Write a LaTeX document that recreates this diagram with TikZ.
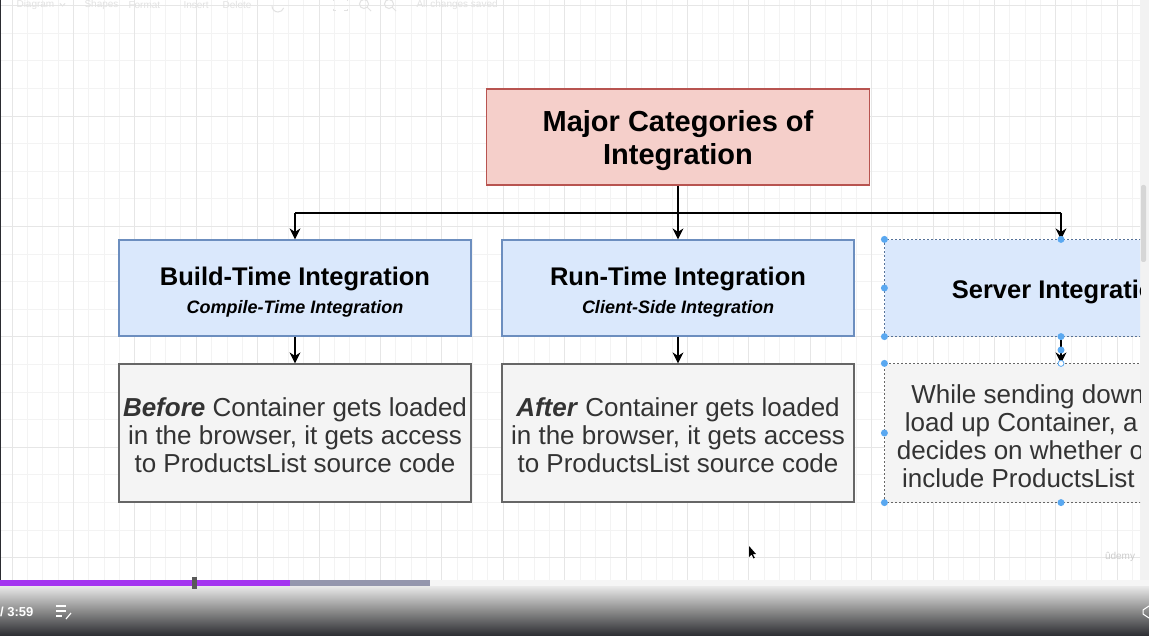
\documentclass[tikz,border=0pt]{standalone}
\usepackage{fontspec}
\setmainfont{Liberation Sans}
\usetikzlibrary{arrows.meta,calc}
\definecolor{pinkfill}{HTML}{F5CFCA}
\definecolor{pinkline}{HTML}{B85450}
\definecolor{bluefill}{HTML}{DAE8FC}
\definecolor{blueline}{HTML}{6C8EBF}
\definecolor{greyfill}{HTML}{F4F4F4}
\definecolor{greyline}{HTML}{666666}
\definecolor{bodytext}{HTML}{333333}
\definecolor{handle}{HTML}{5AA8F0}
\definecolor{gridminor}{HTML}{F3F3F3}
\definecolor{gridmajor}{HTML}{E6E6E6}
\definecolor{tbtext}{HTML}{E2E2E2}
\definecolor{purplebar}{HTML}{A435F0}
\definecolor{greybar}{HTML}{9496AD}
\definecolor{uidark}{HTML}{2B2C31}
\tikzset{
  box/.style={rectangle, minimum width=352pt, inner sep=0pt, align=center, line width=1.2pt},
  titlebox/.style={box, fill=pinkfill, draw=pinkline, minimum width=383pt, minimum height=96pt},
  catbox/.style={box, fill=bluefill, draw=blueline, minimum height=96pt, font=\fontsize{18}{28}\selectfont},
  descbox/.style={box, fill=greyfill, draw=greyline, minimum height=138pt, text=bodytext},
  selbox/.style={dash pattern=on 2pt off 2pt, draw=blueline!80!black},
  conn/.style={draw=black, line width=1.3pt},
  arr/.style={conn, -{Stealth[length=11pt,width=11pt,inset=3.5pt]}},
  hdl/.style={circle, fill=handle, inner sep=0pt, minimum size=7pt},
  catfont/.style={font=\fontsize{25.5}{28}\selectfont\bfseries},
  descfont/.style={font=\fontsize{26}{28}\selectfont},
  tb/.style={text=tbtext, font=\fontsize{10}{12}\selectfont, anchor=west},
  tbicon/.style={draw=tbtext, line width=1pt}
}
\newcommand{\pushdown}[1]{\rule{0pt}{#1}}
\newcommand{\cattitle}[1]{{\fontsize{25.5}{28}\selectfont\bfseries\pushdown{26.5pt}#1}}
\newcommand{\catsub}[1]{{\bfseries\itshape #1}}
\begin{document}
\begin{tikzpicture}[x=1pt,y=-1pt]
\useasboundingbox (0,0) rectangle (1149,636);
\fill[white] (0,0) rectangle (1149,636);
% grid
\begin{scope}
\clip (0,0) rectangle (1140,580);
\foreach \i in {-1,...,75} \draw[gridminor, line width=0.8pt] ({12+\i*15.35},0) -- ++(0,580);
\foreach \j in {-5,...,17} \draw[gridminor, line width=0.8pt] (0,{116+\j*27.6}) -- ++(1140,0);
\foreach \i in {0,...,18} \draw[gridmajor, line width=0.9pt] ({12+\i*61.4},0) -- ++(0,580);
\foreach \j in {-1,...,4} \draw[gridmajor, line width=0.9pt] (0,{116+\j*110.4}) -- ++(1140,0);
\end{scope}
\fill[uidark] (0,0) rectangle (1.2,580);
% toolbar (faint)
\node[tb] (tb1) at (13,5) {Diagram};
\draw[tbicon, line width=0.8pt] (60,3.5) -- (62.5,6) -- (65,3.5);
\node[tb] (tb2) at (81,5) {Shapes};
\node[tb] (tb3) at (125,5) {Format};
\node[tb] (tb4) at (180,5) {Insert};
\node[tb] (tb5) at (219,5) {Delete};
\draw[tbicon] (272,6) arc[start angle=180, end angle=20, radius=6];
\draw[tbicon] (333,1) -- (333,-1) -- (336,-1) (344,-1) -- (347,-1) -- (347,1) (333,9) -- (333,11) -- (336,11) (344,11) -- (347,11) -- (347,9);
\draw[tbicon] (364,4) circle (4.5) (367.5,7.5) -- (371,11);
\draw[tbicon] (389,4) circle (4.5) (392.5,7.5) -- (396,11);
\node[tb] (tb9) at (413,5) {All changes saved};
% scrollbar
\fill[white!95!black] (1140,0) rectangle (1149,580);
\fill[white!84!black, rounded corners=2pt] (1141,185) rectangle (1146,262);
% title
\node[titlebox, font=\fontsize{29}{33}\selectfont\bfseries] (top) at (678,137) {\pushdown{29pt}Major Categories of\\Integration};
% categories
\node[catbox] (build) at (295,288) {\cattitle{Build-Time Integration}\\\catsub{Compile-Time Integration}};
\node[catbox] (run) at (678,288) {\cattitle{Run-Time Integration}\\\catsub{Client-Side Integration}};
\node[descbox, descfont] (buildd) at (295,433) {\pushdown{24pt}\textbf{\textit{Before}} Container gets loaded\\in the browser, it gets access\\to ProductsList source code};
\node[descbox, descfont] (rund) at (678,433) {\pushdown{24pt}\textbf{\textit{After}} Container gets loaded\\in the browser, it gets access\\to ProductsList source code};
\begin{scope}
\clip (0,0) rectangle (1140,580);
\node[catbox, catfont, draw=none] (server) at (1061,288) {\pushdown{26.5pt}Server Integration};
\draw[selbox] (server.south west) rectangle (server.north east);
\node[descbox, descfont, draw=none] (serverd) at (1061,433) {\pushdown{25pt}While sending down JS to\\load up Container, a server\\decides on whether or not to\\include ProductsList source};
\draw[selbox, draw=greyline] (serverd.south west) rectangle (serverd.north east);
\end{scope}
% connectors
\coordinate (busL) at (295,213);
\coordinate (busR) at (1061,213);
\draw[conn] (busL) -- (busR);
\draw[arr] (top.south) -- (run.north);
\draw[arr] (busL) -- (build.north);
\draw[arr] (busR) -- (server.north);
\draw[arr] (build.south) -- (buildd.north);
\draw[arr] (run.south) -- (rund.north);
\draw[arr] (server.south) -- (serverd.north);
% selection handles
\foreach \p in {server.north west, server.north, server.west, server.south west, server.south, serverd.north west, serverd.west, serverd.south west, serverd.south}
  \node[hdl] at (\p) {};
\node[hdl] (mid) at ($(server.south)!0.5!(serverd.north)$) {};
\draw[handle, line width=0.8pt, fill=white] (serverd.north) circle (3pt);
% udemy watermark
\node[text=white!80!black, font=\fontsize{10}{12}\selectfont] (wm) at (1120,557) {ûdemy};
% cursor
\fill[black] (749,546) -- (749,557) -- (751.5,554.5) -- (753.5,558.5) -- (754.8,557.8) -- (752.8,554) -- (756,554) -- cycle;
% video controls
\shade[top color=white!93!black, bottom color=uidark, middle color=white!55!black] (0,585) rectangle (1149,636);
\fill[white!96!black] (0,580) rectangle (1149,586);
\fill[greybar] (0,580) rectangle (430,586);
\fill[purplebar] (0,580) rectangle (290,586);
\fill[white!35!black] (192,576.5) rectangle (196.5,589);
\node[text=white, font=\fontsize{13}{15}\selectfont\bfseries, anchor=west, inner sep=0pt] (time) at (0,612) {/ 3:59};
\draw[white, line width=1.3pt] (56,606) -- (66,606) (56,611) -- (66,611) (56,616) -- (62,616);
\draw[white, line width=1.2pt] (66,619) -- (71,613);
\draw[white, line width=1pt] (1149,606) -- (1143,610) -- (1143,614) -- (1149,618);
\end{tikzpicture}
\end{document}
